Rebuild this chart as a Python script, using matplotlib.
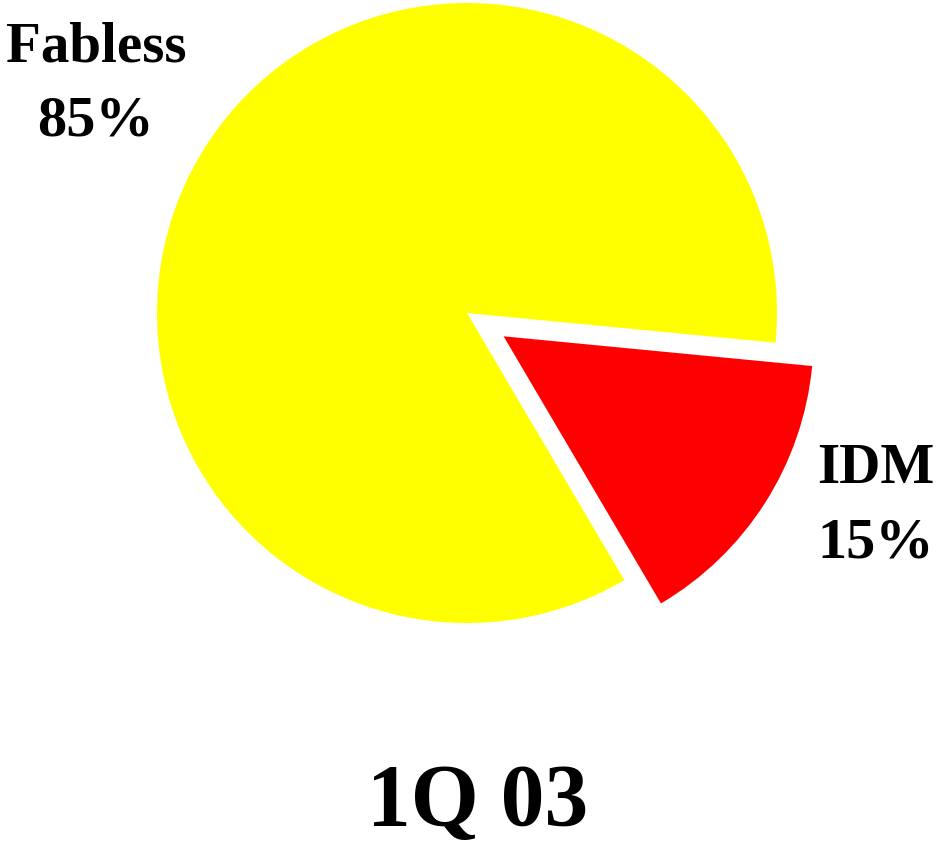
import matplotlib.pyplot as plt

plt.rcParams['font.family'] = ['Liberation Serif', 'DejaVu Serif']

names = ['IDM', 'Fabless']
shares = [15, 85]
colors = ['#ff0000', '#ffff00']
title = '1Q 03'

radius = 310
explode_frac = [0.14, 0]

fig = plt.figure(figsize=(9.37, 8.43), dpi=100)
ax = fig.add_axes([0, 0, 1, 1])

# matplotlib's explode is in data units, so scale by the radius
ax.pie(shares, colors=colors, startangle=-59.5, counterclock=True,
       explode=[e * radius for e in explode_frac], center=(467, 530),
       radius=radius, frame=True)
ax.set_xlim(0, 937)
ax.set_ylim(0, 843)
ax.axis('off')

ax.text(96, 843 - 47, names[1], ha='center', va='center', fontsize=41, fontweight='bold')
ax.text(96, 843 - 122, '%d%%' % shares[1], ha='center', va='center', fontsize=42, fontweight='bold')
ax.text(876, 843 - 469, names[0], ha='center', va='center', fontsize=41, fontweight='bold')
ax.text(876, 843 - 543, '%d%%' % shares[0], ha='center', va='center', fontsize=42, fontweight='bold')
ax.text(478, 843 - 803, title, ha='center', va='center', fontsize=63, fontweight='bold')

fig.savefig('out.png', dpi=100)
